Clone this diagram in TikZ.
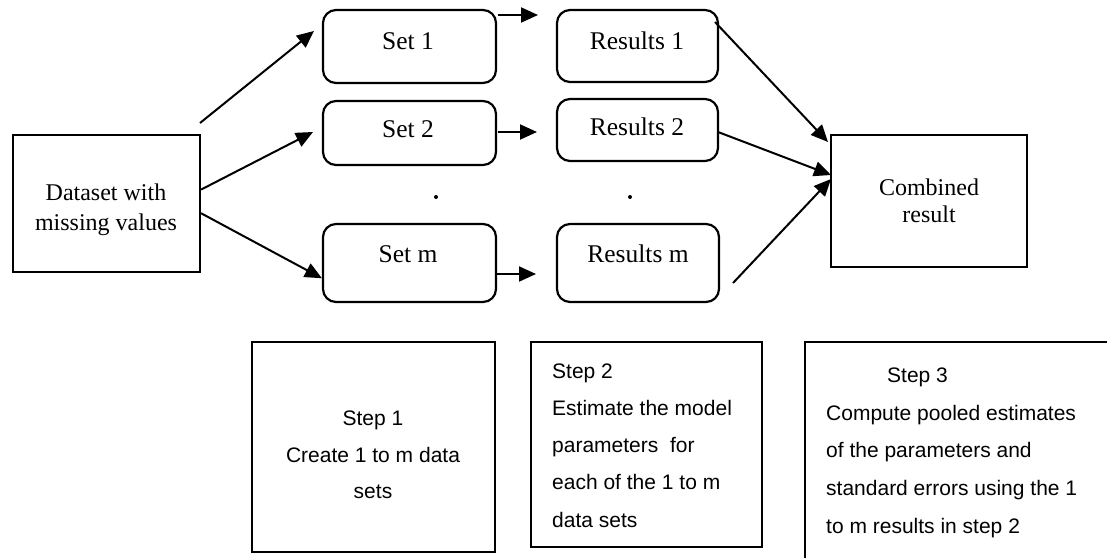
\documentclass[tikz,border=0pt]{standalone}
\usepackage{fontspec}
\setmainfont{Liberation Serif}
\newfontfamily\stepfont{Liberation Sans}
\usetikzlibrary{arrows.meta,calc}

\tikzset{
  plainbox/.style={draw, line width=2.2pt, inner sep=0pt, rectangle},
  roundbox/.style={draw, line width=2.2pt, inner sep=0pt, rectangle, rounded corners=13pt},
  stepbox/.style={draw, line width=1.9pt, inner sep=0pt, rectangle},
  serifbig/.style={anchor=base, inner sep=0pt, font=\fontsize{25.5}{30}\selectfont},
  serifmid/.style={anchor=base, inner sep=0pt, font=\fontsize{24}{30}\selectfont},
  steptext/.style={anchor=base west, inner sep=0pt, font=\stepfont\fontsize{21}{24}\selectfont},
  steptextc/.style={anchor=base, inner sep=0pt, font=\stepfont\fontsize{21}{24}\selectfont},
  arr/.style={line width=2pt, -{Triangle[length=17pt,width=15pt]}},
}

\begin{document}
\begin{tikzpicture}[x=1pt,y=-1pt]
\clip (0,0) rectangle (1107,557);
\fill[white] (0,0) rectangle (1107,557);

% input data set
\node[plainbox, minimum width=187, minimum height=137] (data) at (106.5,203.5) {};
\node[serifmid] (dataA) at (106,200) {Dataset with};
\node[serifmid] (dataB) at (106,230) {missing values};

% imputed data sets
\node[roundbox, minimum width=173, minimum height=73] (s1) at (409.5,46.5) {};
\node[roundbox, minimum width=173, minimum height=64] (s2) at (409.5,133) {};
\node[roundbox, minimum width=173, minimum height=78] (sm) at (409.5,263) {};
\node[serifbig] (s1t) at (408,49) {Set 1};
\node[serifbig] (s2t) at (408,137) {Set 2};
\node[serifbig] (smt) at (408,262) {Set m};
\fill (436,197) circle (2) coordinate (dotA);

% analysis results
\node[roundbox, minimum width=161, minimum height=72] (r1) at (637.5,46) {};
\node[roundbox, minimum width=161, minimum height=62] (r2) at (637.5,130) {};
\node[roundbox, minimum width=162, minimum height=78] (rm) at (638,263) {};
\node[serifbig] (r1t) at (637,49) {Results 1};
\node[serifbig] (r2t) at (637,135) {Results 2};
\node[serifbig] (rmt) at (638,262) {Results m};
\fill (630,197) circle (2) coordinate (dotB);

% pooled result
\node[plainbox, minimum width=196, minimum height=132] (comb) at (929,201) {};
\node[serifmid] (combA) at (929,195) {Combined};
\node[serifmid] (combB) at (929,222) {result};

% arrow end points
\coordinate (d1) at (200,123);
\coordinate (d1e) at (314,31);
\coordinate (d2) at ($(data.north east)!0.4!(data.south east)$);
\coordinate (d2e) at (313,132);
\coordinate (d3) at ($(data.north east)!0.57!(data.south east)$);
\coordinate (d3e) at ($(sm.north west)!0.69!(sm.south west)$);
\coordinate (a1) at (498,15);   \coordinate (a1e) at (538,15);
\coordinate (a2) at (498,132);  \coordinate (a2e) at (537,132);
\coordinate (a3) at (497,274);  \coordinate (a3e) at (536,274);
\coordinate (c1) at (715,22);   \coordinate (c1e) at (828,142);
\coordinate (c2) at (718,132);  \coordinate (c2e) at (831,175);
\coordinate (c3) at (733,283);  \coordinate (c3e) at (831,179);

\draw[arr] (d1) -- (d1e);
\draw[arr] (d2) -- (d2e);
\draw[arr] (d3) -- (d3e);
\draw[arr] (a1) -- (a1e);
\draw[arr] (a2) -- (a2e);
\draw[arr] (a3) -- (a3e);
\draw[arr] (c1) -- (c1e);
\draw[arr] (c2) -- (c2e);
\draw[arr] (c3) -- (c3e);

% step descriptions
\node[stepbox, minimum width=243, minimum height=210] (st1) at (373.5,447) {};
\node[steptextc] (st1a) at (373,425) {Step 1};
\node[steptextc] (st1b) at (373,462) {Create 1 to m data};
\node[steptextc] (st1c) at (373,498) {sets};

\node[stepbox, minimum width=231, minimum height=205] (st2) at (646.5,444.5) {};
\node[steptext] (st2a) at (552,378) {Step 2};
\node[steptext] (st2b) at (552,415) {Estimate the model};
\node[steptext] (st2c) at (552,452) {parameters\ \ for};
\node[steptext] (st2d) at (552,489) {each of the 1 to m};
\node[steptext] (st2e) at (552,527) {data sets};

\node[stepbox, minimum width=320, minimum height=233] (st3) at (965,458.5) {};
\node[steptext] (st3a) at (887,382) {Step 3};
\node[steptext] (st3b) at (826,420) {Compute pooled estimates};
\node[steptext] (st3c) at (826,457) {of the parameters and};
\node[steptext] (st3d) at (826,495) {standard errors using the 1};
\node[steptext] (st3e) at (826,533) {to m results in step 2};
\end{tikzpicture}
\end{document}
